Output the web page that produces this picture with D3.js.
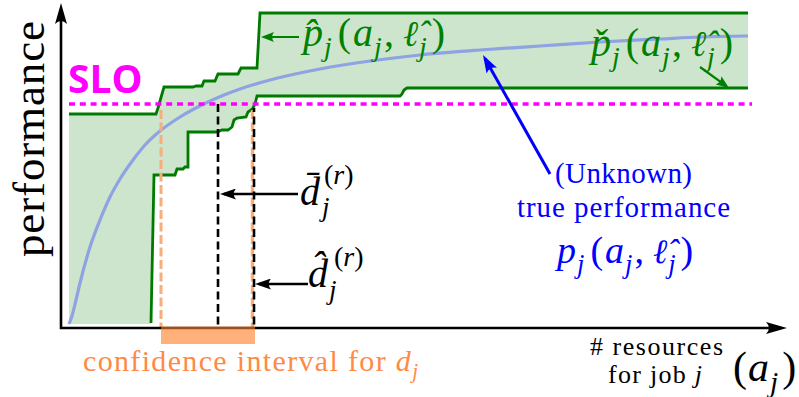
<!DOCTYPE html>
<html><head><meta charset="utf-8">
<script src="https://cdn.jsdelivr.net/npm/d3@7"></script>
<style>html,body{margin:0;padding:0;background:#fff;} svg{display:block;}</style>
</head><body><svg id="c" width="799" height="397"></svg>
<script>
// ---------------- data (x: # resources, y: performance, arbitrary units) ----------------
const upperX = [1.6, 19, 19.4, 20.6, 26.4, 27, 28.2, 28.6, 30.8, 31.4, 35.4, 36, 39.2, 39.8, 137.4];
const upperY = [107, 107, 110, 120.5, 120.5, 121, 121, 123.5, 123.5, 127, 127, 130, 130, 157.5, 157.5];
const lowerX = [18, 18.6, 22.8, 23.2, 24.4, 24.8, 25.4, 25.4, 31.2, 32.2, 33.4, 34.2, 34.6, 35.2, 37, 37.4, 38, 38.4, 38.8, 39.2, 67.8, 68.2, 68.6, 69.2, 137.4];
const lowerY = [2.5, 76.5, 76.5, 79.5, 79.5, 80.5, 80.5, 98, 98, 99, 99, 100.5, 104, 105, 105.5, 108, 109, 110, 112, 116, 116, 117, 119, 120, 120];
const bandStartX = 1.6, bandBaseY = 2;
const trueX = [1.6, 2.2, 3, 3.8, 5.8, 7.8, 9.8, 11.8, 14.4, 16.8, 19.8, 23.8, 29.4, 35.8, 41.8, 51.8, 61.8, 71.8, 83.8, 95.8, 107.8, 119.8, 127.8, 137.4];
const trueY = [2, 6, 14, 22.5, 40.5, 54, 65.5, 74.5, 84, 91.5, 98.5, 105.5, 113, 119.5, 124, 129.5, 133.5, 136.5, 139, 141, 143, 144.5, 145.5, 146];
const sloLevel = 112, sloFrom = 1.6, sloTo = 138.2;
const ciLow = 20, dBar = 31.4, dHat = 38.6, ciHigh = 38.3, ciEnd = 38.8;
const dBarTop = 112, dHatTop = 110, ciTop = 109;

// ---------------- scales ----------------
const x = d3.scaleLinear().domain([0, 145]).range([61, 786]);
const y = d3.scaleLinear().domain([0, 160]).range([328, 8]);
const xAxisEnd = 145.2, yAxisEnd = 162.5;

const svg = d3.select('#c');
const defs = svg.append('defs');
function marker(id, color, L, W) {
  defs.append('marker').attr('id', id).attr('markerUnits', 'userSpaceOnUse')
    .attr('viewBox', `${-L} ${-W/2} ${L} ${W}`).attr('refX', 0).attr('refY', 0)
    .attr('markerWidth', L).attr('markerHeight', W).attr('orient', 'auto')
    .append('path').attr('d', `M0,0 L${-L},${-W/2} Q${-0.72*L},0 ${-L},${W/2} Z`).attr('fill', color);
}
marker('ax', '#000', 21, 12);
marker('bk', '#000', 16, 11);
marker('gr', 'green', 13, 10);
marker('bl', '#0000ff', 18, 12);

function arrow(x1, y1, x2, y2, color, m, w) {
  const dx = x2 - x1, dy = y2 - y1, len = Math.hypot(dx, dy);
  const s = (len - 4) / len;
  svg.append('line').attr('x1', x1).attr('y1', y1).attr('x2', x1 + dx*s).attr('y2', y1 + dy*s)
    .attr('stroke', color).attr('stroke-width', w);
  svg.append('path').attr('d', `M${x1},${y1}L${x2},${y2}`).attr('stroke', 'none').attr('fill', 'none')
    .attr('marker-end', `url(#${m})`);
}

// ---------------- band ----------------
const upper = upperX.map((v, i) => [v, upperY[i]]);
const lower = lowerX.map((v, i) => [v, lowerY[i]]);
const bandLower = [[bandStartX, bandBaseY], [lowerX[0], bandBaseY]].concat(lower);
const poly = upper.concat(bandLower.slice().reverse());
const line = d3.line().x(d => x(d[0])).y(d => y(d[1]));
svg.append('path').attr('d', line(poly) + 'Z').attr('fill', '#cde5cd').attr('stroke', 'none');

// true performance curve
svg.append('path').attr('d', d3.line().curve(d3.curveMonotoneX).x(d => x(d[0])).y(d => y(d[1]))(trueX.map((v, i) => [v, trueY[i]])))
  .attr('fill', 'none').attr('stroke', '#8fa2e2').attr('stroke-width', 3.2);

// bounds
svg.append('path').attr('d', line(upper)).attr('fill', 'none').attr('stroke', '#007a00').attr('stroke-width', 2.8);
svg.append('path').attr('d', line(lower)).attr('fill', 'none').attr('stroke', '#007a00').attr('stroke-width', 2.8);

// dashed verticals
function vline(v, top, color, w, dash, off) {
  svg.append('line').attr('x1', x(v)).attr('x2', x(v)).attr('y1', y(top)).attr('y2', y(0))
    .attr('stroke', color).attr('stroke-width', w).attr('stroke-dasharray', dash).attr('stroke-dashoffset', off || 0);
}
vline(ciLow, ciTop, '#f7ae7c', 3, '9,3.5');
vline(ciHigh, ciTop, '#f7ae7c', 3.4, '9,3.5');
vline(dBar, dBarTop, '#000', 2.6, '8,4.5');
vline(dHat, dHatTop, '#000', 2.6, '8,4.5', 4);

// SLO
svg.append('line').attr('x1', x(sloFrom)).attr('x2', x(sloTo)).attr('y1', y(sloLevel)).attr('y2', y(sloLevel))
  .attr('stroke', '#ff00ff').attr('stroke-width', 3.4).attr('stroke-dasharray', '6,4.8');

// axes
svg.append('path').attr('d', `M${x(0)},${y(yAxisEnd)+18}L${x(0)},${y(0)}L${x(xAxisEnd)-18},${y(0)}`)
  .attr('fill', 'none').attr('stroke', '#000').attr('stroke-width', 2.6).attr('stroke-linejoin', 'miter');
svg.append('path').attr('d', `M${x(0)},${y(0)}L${x(0)},${y(yAxisEnd)}`).attr('marker-end', 'url(#ax)');
svg.append('path').attr('d', `M${x(0)},${y(0)}L${x(xAxisEnd)},${y(0)}`).attr('marker-end', 'url(#ax)');

// confidence interval bar
svg.append('rect').attr('x', x(ciLow)).attr('width', x(ciEnd) - x(ciLow)).attr('y', y(0) - 1.5).attr('height', 17.5)
  .attr('fill', '#ff7f2a').attr('fill-opacity', 0.62);

// ---------------- annotations ----------------
arrow(299, 37, 261, 37, 'green', 'gr', 2.2);
arrow(700, 67, 729, 88, 'green', 'gr', 2.2);
arrow(550, 174, 483, 55, '#0000ff', 'bl', 3);
arrow(298, 194, x(dBar) + 2, 194, '#000', 'bk', 2.6);
arrow(308, 284, x(dHat) + 1, 284, '#000', 'bk', 2.6);

const SERIF = 'Liberation Serif, serif';
function math(x0, y0, size, color, parts) {
  const t = svg.append('text').attr('x', x0).attr('y', y0).attr('fill', color)
    .attr('font-family', SERIF).attr('font-size', size);
  let shift = 0;
  parts.forEach(p => {
    const target = p.sub ? 0.26 * size : 0;
    const ts = t.append('tspan').text(p.t).attr('dy', target - shift);
    shift = target;
    if (p.i) ts.attr('font-style', 'italic');
    if (p.sub) ts.attr('font-size', size * 0.7);
    if (p.dx) ts.attr('dx', p.dx);
    if (p.f) ts.attr('font-family', p.f).attr('font-size', size * 0.9);
  });
  return t;
}
const pj = (p) => [
  { t: p, i: true }, { t: 'j', i: true, sub: true, dx: 1 }, { t: '(' , dx: 6}, { t: 'a', i: true, dx: 2 }, { t: 'j', i: true, sub: true, dx: 1 },
  { t: ',', dx: 2 }, { t: '\u2113\u0302', i: true, dx: 9, f: 'DejaVu Serif' }, { t: 'j', i: true, sub: true, dx: 1 }, { t: ')', dx: 5 }
];
math(303, 46, 40, 'green', pj('p\u0302'));
math(591, 56, 40, 'green', pj('p\u030C'));
math(557, 263, 38, '#0000ff', pj('p'));

function plain(x0, y0, size, color, str, width, anchor) {
  return svg.append('text').attr('x', x0).attr('y', y0).attr('text-anchor', anchor || 'start').attr('fill', color)
    .attr('font-family', SERIF).attr('font-size', size).attr('textLength', width).attr('lengthAdjust', 'spacing').text(str);
}
plain(555, 183, 29, '#0000ff', '(Unknown)', 137);
plain(517, 217, 29, '#0000ff', 'true performance', 213);

// d labels
function dlabel(x0, y0, accent, supX, supY, subX, subY) {
  svg.append('text').attr('x', x0).attr('y', y0).attr('font-family', SERIF).attr('font-size', 40)
    .attr('font-style', 'italic').text('d' + accent);
  const s = svg.append('text').attr('x', supX).attr('y', supY).attr('font-family', SERIF).attr('font-size', 28);
  s.append('tspan').text('(');
  s.append('tspan').attr('font-style', 'italic').text('r');
  s.append('tspan').text(')');
  svg.append('text').attr('x', subX).attr('y', subY).attr('font-family', SERIF).attr('font-size', 27)
    .attr('font-style', 'italic').text('j');
}
dlabel(300, 205, '\u0304', 324, 184, 322, 216);
dlabel(308, 287, '\u0302', 334, 266, 329, 299);

// y label
svg.append('text').attr('transform', 'translate(44,139) rotate(-90)').attr('text-anchor', 'middle')
  .attr('font-family', SERIF).attr('font-size', 45).attr('textLength', 236).attr('lengthAdjust', 'spacing').text('performance');

// SLO
svg.append('text').attr('x', 68).attr('y', 93).attr('fill', '#ff00ff').attr('font-family', 'Open Sans')
  .attr('font-weight', 700).attr('font-size', 39).text('SLO');

// confidence interval text
const ct = svg.append('text').attr('x', 83).attr('y', 371).attr('fill', '#ff8a45')
  .attr('font-family', SERIF).attr('font-size', 30).attr('textLength', 335).attr('lengthAdjust', 'spacing');
ct.append('tspan').text('confidence interval for ');
ct.append('tspan').attr('font-style', 'italic').text('d');
ct.append('tspan').attr('font-style', 'italic').attr('font-size', 21).attr('dy', 7).text('j');

// x label
plain(590, 355, 26, '#000', '# resources', 133);
const fj = svg.append('text').attr('x', 608).attr('y', 383).attr('font-family', SERIF)
  .attr('font-size', 26).attr('textLength', 94).attr('lengthAdjust', 'spacing');
fj.append('tspan').text('for job ');
fj.append('tspan').attr('font-style', 'italic').text('j');
math(733, 381, 42, '#000', [{ t: '(' }, { t: 'a', i: true, dx: 1 }, { t: 'j', i: true, sub: true, dx: 1 }, { t: ')', dx: 4 }]);
</script></body></html>
